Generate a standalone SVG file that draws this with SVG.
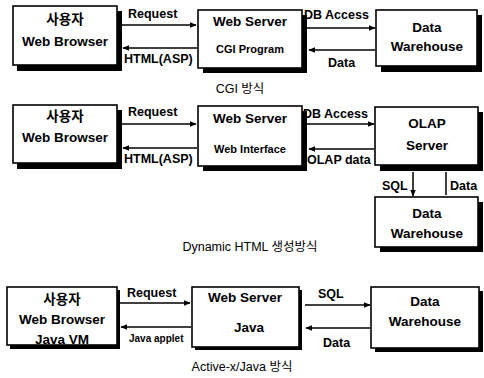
<svg xmlns="http://www.w3.org/2000/svg" width="484" height="378" viewBox="0 0 484 378">
<defs>
<style>
.box{fill:#fff;stroke:#000;stroke-width:1.6}
.sh{fill:#000}
.t{font-family:"Liberation Sans","Noto Sans CJK KR",sans-serif;font-weight:bold;font-size:13.5px;fill:#000;text-anchor:middle}
.s{font-size:11px}
.l{font-family:"Liberation Sans","Noto Sans CJK KR",sans-serif;font-weight:bold;font-size:12.5px;fill:#000}
.c{font-family:"Liberation Sans","Noto Sans CJK KR",sans-serif;font-size:12.5px;fill:#000;text-anchor:middle}
.ln{stroke:#000;stroke-width:1.5;fill:none}
</style>
<marker id="ah" viewBox="0 0 10 10" refX="9" refY="5" markerWidth="7" markerHeight="7" orient="auto-start-reverse" markerUnits="userSpaceOnUse">
<path d="M0,1 L10,5 L0,9 Z" fill="#000"/>
</marker>
</defs>
<rect width="484" height="378" fill="#fff"/>

<g id="r1-browser">
<rect class="sh" x="17" y="11" width="105" height="60"/>
<rect class="box" x="13" y="6" width="104" height="59"/>
<text class="t" x="65" y="24">사용자</text>
<text class="t" x="65" y="46">Web Browser</text>
</g>
<g id="r1-webserver">
<rect class="sh" x="203" y="15" width="104" height="58"/>
<rect class="box" x="198" y="10" width="104" height="58"/>
<text class="t" x="250" y="26">Web Server</text>
<text class="t s" x="250" y="53">CGI Program</text>
</g>
<g id="r1-dw">
<rect class="sh" x="381" y="15" width="101" height="57"/>
<rect class="box" x="376" y="10" width="101" height="56"/>
<text class="t" x="427" y="32">Data</text>
<text class="t" x="427" y="51">Warehouse</text>
</g>
<text class="c" x="240" y="93">CGI 방식</text>

<g id="r2-browser">
<rect class="sh" x="17" y="110" width="105" height="59"/>
<rect class="box" x="13" y="105" width="104" height="58"/>
<text class="t" x="65" y="121">사용자</text>
<text class="t" x="65" y="142">Web Browser</text>
</g>
<g id="r2-webserver">
<rect class="sh" x="203" y="111" width="104" height="60"/>
<rect class="box" x="198" y="106" width="104" height="60"/>
<text class="t" x="250" y="123">Web Server</text>
<text class="t s" x="250" y="153">Web Interface</text>
</g>
<g id="r2-olap">
<rect class="sh" x="380" y="112" width="103" height="59"/>
<rect class="box" x="375" y="107" width="103" height="58"/>
<text class="t" x="427" y="128">OLAP</text>
<text class="t" x="427" y="150">Server</text>
</g>
<g id="r2-dw">
<rect class="sh" x="380" y="202" width="103" height="50"/>
<rect class="box" x="375" y="197" width="103" height="50"/>
<text class="t" x="427" y="218">Data</text>
<text class="t" x="427" y="238">Warehouse</text>
</g>
<text class="c" x="250" y="251">Dynamic HTML 생성방식</text>

<g id="r3-browser">
<rect class="sh" x="10" y="290" width="110" height="59"/>
<rect class="box" x="7" y="287" width="110" height="58"/>
<text class="t" x="62" y="304">사용자</text>
<text class="t" x="62" y="324">Web Browser</text>
<text class="t" x="62" y="344">Java VM</text>
</g>
<g id="r3-webserver">
<rect class="sh" x="195" y="290" width="107" height="60"/>
<rect class="box" x="192" y="287" width="107" height="60"/>
<text class="t" x="245" y="302">Web Server</text>
<text class="t" x="249" y="332">Java</text>
</g>
<g id="r3-dw">
<rect class="sh" x="375" y="291" width="108" height="61"/>
<rect class="box" x="371" y="287" width="108" height="61"/>
<text class="t" x="425" y="306">Data</text>
<text class="t" x="425" y="326">Warehouse</text>
</g>
<text class="c" x="242" y="371">Active-x/Java 방식</text>

<g id="connectors">
<line class="ln" x1="122" y1="25" x2="196" y2="25" marker-end="url(#ah)"/>
<line class="ln" x1="197" y1="48" x2="123" y2="48" marker-end="url(#ah)"/>
<line class="ln" x1="307" y1="28" x2="375" y2="28" marker-end="url(#ah)"/>
<line class="ln" x1="375" y1="50" x2="309" y2="50" marker-end="url(#ah)"/>

<line class="ln" x1="122" y1="124" x2="196" y2="124" marker-end="url(#ah)"/>
<line class="ln" x1="197" y1="148" x2="123" y2="148" marker-end="url(#ah)"/>
<line class="ln" x1="307" y1="124" x2="374" y2="124" marker-end="url(#ah)"/>
<line class="ln" x1="374" y1="149" x2="309" y2="149" marker-end="url(#ah)"/>
<line class="ln" x1="413" y1="172" x2="413" y2="196" marker-end="url(#ah)"/>
<line class="ln" x1="446" y1="195" x2="446" y2="172"/>

<line class="ln" x1="120" y1="303" x2="190" y2="303" marker-end="url(#ah)"/>
<line class="ln" x1="191" y1="327" x2="121" y2="327" marker-end="url(#ah)"/>
<line class="ln" x1="305" y1="305" x2="370" y2="305" marker-end="url(#ah)"/>
<line class="ln" x1="370" y1="328" x2="306" y2="328" marker-end="url(#ah)"/>

<text class="l" x="128" y="18">Request</text>
<text class="l" x="124" y="63">HTML(ASP)</text>
<text class="l" x="304" y="19">DB Access</text>
<text class="l" x="328" y="67">Data</text>

<text class="l" x="128" y="116">Request</text>
<text class="l" x="124" y="163">HTML(ASP)</text>
<text class="l" x="303" y="118">DB Access</text>
<text class="l" x="307" y="164">OLAP data</text>
<text class="l" x="382" y="190">SQL</text>
<text class="l" x="450" y="190">Data</text>

<text class="l" x="127" y="297">Request</text>
<text class="l" x="129" y="342" style="font-size:10px">Java applet</text>
<text class="l" x="318" y="298">SQL</text>
<text class="l" x="323" y="347">Data</text>
</g>
</svg>
